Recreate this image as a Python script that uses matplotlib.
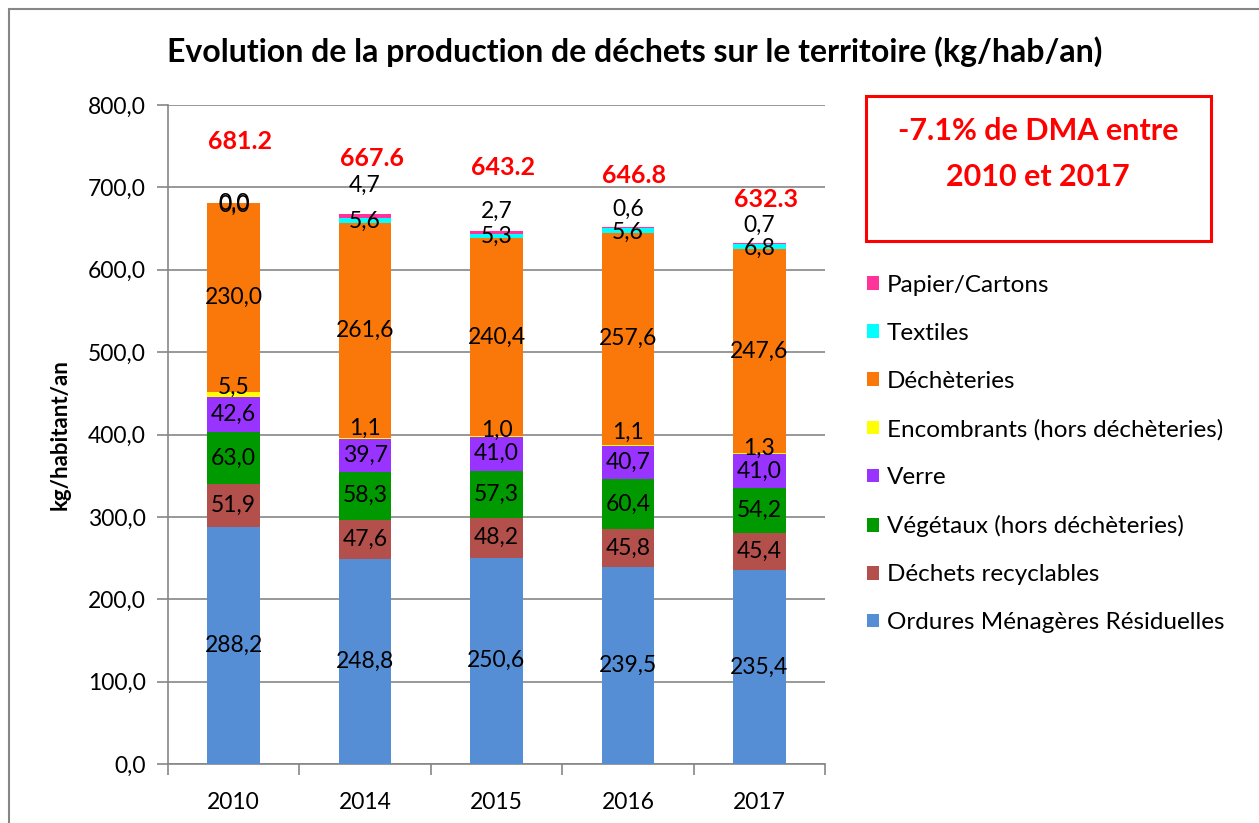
import matplotlib
matplotlib.use("Agg")
import matplotlib.pyplot as plt
from matplotlib.patches import Rectangle
import numpy as np

plt.rcParams['font.family'] = ['Lato', 'DejaVu Sans']

years = ["2010", "2014", "2015", "2016", "2017"]

series_names = [
    "Ordures Ménagères Résiduelles",
    "Déchets recyclables",
    "Végétaux (hors déchèteries)",
    "Verre",
    "Encombrants (hors déchèteries)",
    "Déchèteries",
    "Textiles",
    "Papier/Cartons",
]
ordures = [288.2, 248.8, 250.6, 239.5, 235.4]
recyclables = [51.9, 47.6, 48.2, 45.8, 45.4]
vegetaux = [63.0, 58.3, 57.3, 60.4, 54.2]
verre = [42.6, 39.7, 41.0, 40.7, 41.0]
encombrants = [5.5, 1.1, 1.0, 1.1, 1.3]
decheteries = [230.0, 261.6, 240.4, 257.6, 247.6]
textiles = [0.0, 5.6, 5.3, 5.6, 6.8]
papier = [0.0, 4.7, 2.7, 0.6, 0.7]

dma_totals = [681.2, 667.6, 643.2, 646.8, 632.3]

colors = ["#558ED5", "#B4504C", "#009A00", "#9933FF",
          "#FFFF00", "#FA780A", "#00FFFF", "#FF3399"]

series = [ordures, recyclables, vegetaux, verre, encombrants,
          decheteries, textiles, papier]

# vertical nudges (kg) for labels of thin segments, and for the red totals
label_shift = {
    "Papier/Cartons": [-3, 37, 26, 22, 22],
    "Textiles": [0, -1, -1, -2, -2],
    "Encombrants (hors déchèteries)": [9, 12, 7, 16, 6],
}
total_label_shift = [74, 68, 78, 63, 53]

W, H = 1259, 823
fig = plt.figure(figsize=(W / 100, H / 100), dpi=100)
ax = fig.add_axes([168 / W, 1 - 764 / H, (825 - 168) / W, (764 - 105) / H])

x = np.arange(len(years))
bottom = np.zeros(len(years))
for name, vals, col in zip(series_names, series, colors):
    vals = np.array(vals, dtype=float)
    ax.bar(x, vals, 0.4, bottom=bottom, color=col, label=name,
           edgecolor="none", zorder=3)
    centers = bottom + vals / 2
    shifts = label_shift.get(name, [0] * len(years))
    for i, v in enumerate(vals):
        ax.text(x[i], centers[i] + shifts[i], f"{v:.1f}".replace(".", ","),
                ha="center", va="center", fontsize=16.5, color="black",
                zorder=5)
    bottom = bottom + vals

for i, t in enumerate(dma_totals):
    ax.text(x[i] + 0.05, bottom[i] + total_label_shift[i], f"{t:.1f}",
            ha="center", va="center", fontsize=18, fontweight="bold",
            color="#FF0000", zorder=5)

ax.set_xlim(-0.5, len(years) - 0.5)
ax.set_ylim(0, 800)
ax.set_yticks(np.arange(0, 801, 100))
ax.set_yticklabels([f"{v:.1f}".replace(".", ",") for v in np.arange(0, 801, 100)],
                   fontsize=16.5)
ax.set_xticks(x)
ax.set_xticklabels(years, fontsize=16.5)
ax.set_xticks(np.arange(-0.5, len(years)), minor=True)
ax.tick_params(axis="x", which="major", length=0, pad=20)
ax.tick_params(axis="x", which="minor", length=8, color="#868686", width=1.2)
ax.tick_params(axis="y", length=8, color="#868686", width=1.2, pad=8)
ax.yaxis.grid(True, color="#868686", linewidth=1.2, zorder=0)
for s in ["top", "right"]:
    ax.spines[s].set_visible(False)
for s in ["left", "bottom"]:
    ax.spines[s].set_color("#868686")
    ax.spines[s].set_linewidth(1.2)
ax.set_ylabel("kg/habitant/an", fontsize=16, fontweight="bold", labelpad=12)

handles, labels = ax.get_legend_handles_labels()
fig.legend(handles[::-1], labels[::-1], loc="upper left",
           bbox_to_anchor=(857 / W, 1 - 265 / H), frameon=False,
           fontsize=17.5, handlelength=0.5, handleheight=0.5,
           handletextpad=0.33, labelspacing=1.11, borderaxespad=0)

fig.text(635 / W, 1 - 52 / H,
         "Evolution de la production de déchets sur le territoire (kg/hab/an)",
         ha="center", va="center", fontsize=23, fontweight="bold")

fig.patches.append(Rectangle((866 / W, 1 - 241 / H), (1211 - 866) / W,
                             (241 - 96) / H, transform=fig.transFigure,
                             fill=False, edgecolor="#FF0000", linewidth=2.2))
fig.text(1038 / W, 1 - 154 / H, "-7.1% de DMA entre\n2010 et 2017",
         ha="center", va="center", fontsize=22, fontweight="bold",
         color="#FF0000", linespacing=1.8)

fig.patches.append(Rectangle((9 / W, -0.1), 1.2, 1 - 9 / H + 0.1,
                             transform=fig.transFigure, fill=False,
                             edgecolor="#868686", linewidth=1.5))

fig.savefig("out.png", dpi=100)
